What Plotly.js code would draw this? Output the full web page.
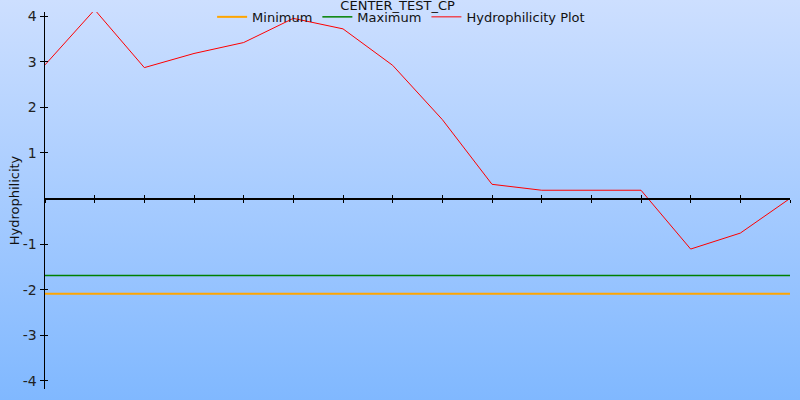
<!DOCTYPE html>
<html>
<head>
<meta charset="utf-8">
<script src="https://cdn.plot.ly/plotly-3.0.1.min.js"></script>
<style>
html,body{margin:0;padding:0;}
body{width:800px;height:400px;background:linear-gradient(to bottom,#cddfff 0%,#80b8ff 100%);}
#chart{width:800px;height:400px;}
</style>
</head>
<body>
<div id="chart"></div>
<script>
const chartTitle = "CENTER_TEST_CP";
const positions = [0,1,2,3,4,5,6,7,8,9,10,11,12,13,14,15];
const hydrophilicity = [2.93,4.14,2.87,3.18,3.42,3.95,3.72,2.92,1.73,0.31,0.18,0.18,0.18,-1.11,-0.76,0.0];
const minimumValue = -2.09;
const maximumValue = -1.69;
const yTickVals = [-4,-3,-2,-1,1,2,3,4];
const yTickText = ["-4","-3","-2","-1","1","2","3","4"];
const yRange = [-4.18, 4.09];
const xRange = [0, 15];

const minY = positions.map(() => minimumValue);
const maxY = positions.map(() => maximumValue);
const zeroPos = (0 - yRange[0]) / (yRange[1] - yRange[0]);

const traces = [
  {x: positions, y: minY, name: "Minimum", mode: "lines", line: {color: "#ffa500", width: 2}},
  {x: positions, y: maxY, name: "Maximum", mode: "lines", line: {color: "#008000", width: 1.5}},
  {x: positions, y: hydrophilicity, name: "Hydrophilicity Plot", mode: "lines", line: {color: "#ff0000", width: 1}}
];

const font = {family: "DejaVu Sans, Verdana, sans-serif", size: 13, color: "#222"};

const layout = {
  width: 800, height: 400,
  paper_bgcolor: "rgba(0,0,0,0)",
  plot_bgcolor: "rgba(0,0,0,0)",
  margin: {l: 45, r: 10, t: 12, b: 11, autoexpand: false},
  font: font,
  title: {text: chartTitle, x: 0.497, xanchor: "center", y: 0.986, yanchor: "middle", font: {family: font.family, size: 13, color: "#111"}},
  showlegend: true,
  legend: {orientation: "h", x: 0.478, xanchor: "center", y: 0.987, yanchor: "middle", bgcolor: "rgba(0,0,0,0)", font: {family: font.family, size: 13, color: "#111"}, itemwidth: 30},
  xaxis: {range: xRange, anchor: "free", position: zeroPos, showgrid: false, zeroline: false,
          showline: true, linecolor: "#000", linewidth: 1.5, ticks: "outside", ticklen: 3, tickcolor: "#000",
          dtick: 1, tick0: 0, showticklabels: false},
  xaxis2: {range: xRange, overlaying: "x", anchor: "free", position: zeroPos, showgrid: false, zeroline: false,
          showline: false, ticks: "inside", ticklen: 3, tickcolor: "#000", dtick: 1, tick0: 0, showticklabels: false},
  yaxis: {range: yRange, showgrid: false, zeroline: false, showline: true, linecolor: "#000", linewidth: 1.5,
          ticks: "outside", ticklen: 4, tickcolor: "#000", tickmode: "array", tickvals: yTickVals, ticktext: yTickText,
          tickfont: {family: font.family, size: 14, color: "#222"}, ticklabelstandoff: 0,
          title: {text: "Hydrophilicity", standoff: 0, font: {family: font.family, size: 13, color: "#111"}}},
  yaxis2: {range: yRange, overlaying: "y", anchor: "x", showgrid: false, zeroline: false, showline: false,
          ticks: "inside", ticklen: 3, tickcolor: "#000", tickmode: "array", tickvals: yTickVals, showticklabels: false}
};

const dummy = [
  {x: [0], y: [0], xaxis: "x2", yaxis: "y2", mode: "markers", marker: {opacity: 0}, showlegend: false, hoverinfo: "skip"}
];

Plotly.newPlot("chart", traces.concat(dummy), layout, {staticPlot: true, displayModeBar: false});
</script>
</body>
</html>
